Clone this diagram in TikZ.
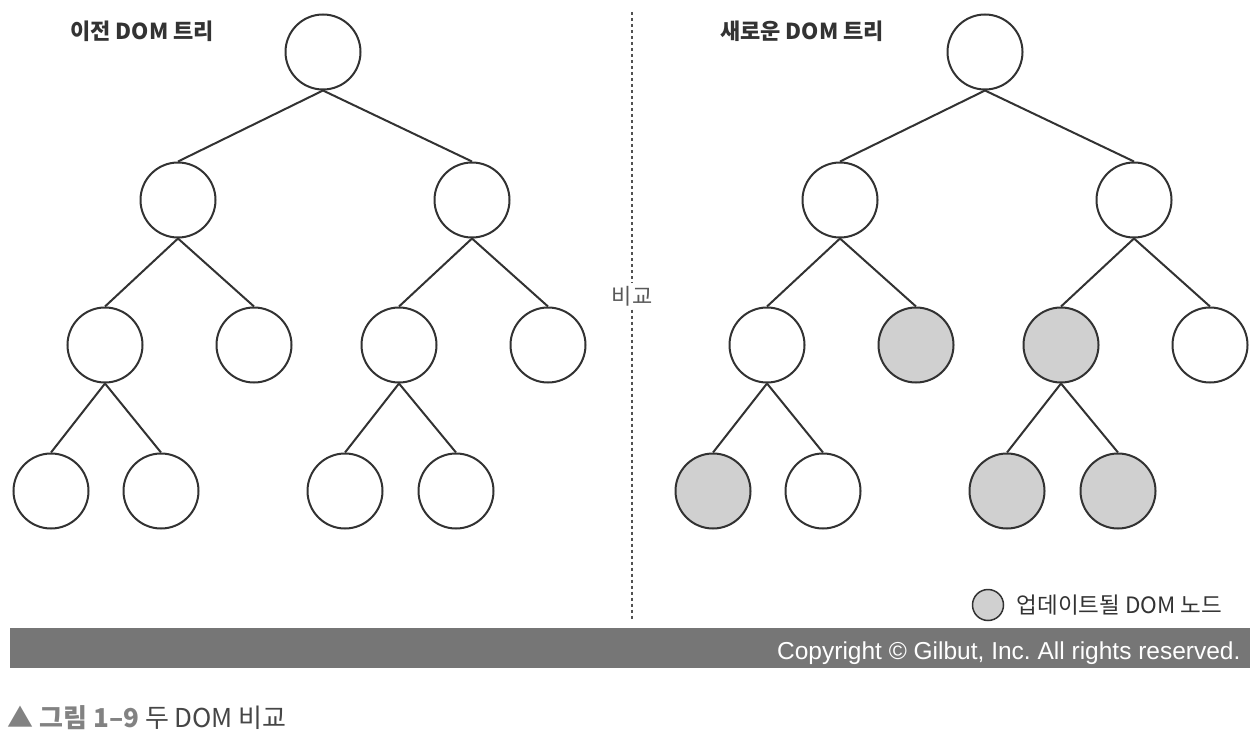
\documentclass[tikz,border=0pt]{standalone}
\usepackage{fontspec}
\setmainfont{Noto Sans CJK KR}
\newfontfamily\arialfont{Liberation Sans}
\usetikzlibrary{positioning}
\definecolor{trazo}{RGB}{50,50,50}
\definecolor{gris}{RGB}{208,208,208}
\definecolor{barra}{RGB}{118,118,118}
\definecolor{pie}{RGB}{130,130,130}
\definecolor{pieoscuro}{RGB}{70,70,70}
\frenchspacing

\begin{document}
\begin{tikzpicture}[x=1pt, y=-1pt,
  nodo/.style={circle, draw=trazo, line width=2pt, fill=white,
               minimum size=75pt, inner sep=0pt},
  cambio/.style={nodo, fill=gris},
  arista/.style={line width=2pt, color=trazo},
  separador/.style={line width=1.8pt, color=trazo!85, dash pattern=on 3pt off 3pt},
  titulo/.style={font=\fontsize{22}{26}\selectfont\bfseries, text=black!80}]
  \useasboundingbox (0,0) rectangle (1260,746);
  % arbol anterior
  \node[titulo] (tviejo) at (142,31) {이전 DOM 트리};
  \node[nodo] (v0) at (323,52) {};
  \node[nodo] (v1) at (178,200) {};
  \node[nodo] (v2) at (472,200) {};
  \node[nodo] (v11) at (105,345) {};
  \node[nodo] (v12) at (254,345) {};
  \node[nodo] (v21) at (399,345) {};
  \node[nodo] (v22) at (548,345) {};
  \node[nodo] (v111) at (51,491) {};
  \node[nodo] (v112) at (161,491) {};
  \node[nodo] (v211) at (345,491) {};
  \node[nodo] (v212) at (456,491) {};
  \draw[arista] (v0.south) -- (v1.north);
  \draw[arista] (v0.south) -- (v2.north);
  \draw[arista] (v1.south) -- (v11.north);
  \draw[arista] (v1.south) -- (v12.north);
  \draw[arista] (v2.south) -- (v21.north);
  \draw[arista] (v2.south) -- (v22.north);
  \draw[arista] (v11.south) -- (v111.north);
  \draw[arista] (v11.south) -- (v112.north);
  \draw[arista] (v21.south) -- (v211.north);
  \draw[arista] (v21.south) -- (v212.north);
  % arbol nuevo
  \node[titulo] (tnuevo) at (802,31) {새로운 DOM 트리};
  \node[nodo] (n0) at (985,52) {};
  \node[nodo] (n1) at (840,200) {};
  \node[nodo] (n2) at (1134,200) {};
  \node[nodo] (n11) at (767,345) {};
  \node[cambio] (n12) at (916,345) {};
  \node[cambio] (n21) at (1061,345) {};
  \node[nodo] (n22) at (1210,345) {};
  \node[cambio] (n111) at (713,491) {};
  \node[nodo] (n112) at (823,491) {};
  \node[cambio] (n211) at (1007,491) {};
  \node[cambio] (n212) at (1118,491) {};
  \draw[arista] (n0.south) -- (n1.north);
  \draw[arista] (n0.south) -- (n2.north);
  \draw[arista] (n1.south) -- (n11.north);
  \draw[arista] (n1.south) -- (n12.north);
  \draw[arista] (n2.south) -- (n21.north);
  \draw[arista] (n2.south) -- (n22.north);
  \draw[arista] (n11.south) -- (n111.north);
  \draw[arista] (n11.south) -- (n112.north);
  \draw[arista] (n21.south) -- (n211.north);
  \draw[arista] (n21.south) -- (n212.north);
  % separador
  \coordinate (sepA) at (632,12);
  \coordinate (sepB) at (632,620);
  \node[font=\fontsize{22}{26}\selectfont, text=black!65] (comparar) at (632,296) {비교};
  \draw[separador] (sepA) -- (comparar);
  \draw[separador] (comparar) -- (sepB);
  % leyenda
  \node[cambio, minimum size=31pt, line width=1.5pt] (leyenda) at (988,605) {};
  \node[right=9pt of leyenda, font=\fontsize{22.5}{26}\selectfont, text=black!80] (leyendatexto) {업데이트될 DOM 노드};
  % barra y pie
  \node[fill=barra, minimum width=1240pt, minimum height=40pt, inner sep=0pt] (franja) at (630,648) {};
  \node[anchor=east, text=white, font=\arialfont\fontsize{24.5}{28}\selectfont]
       (derechos) at (1244,653) {Copyright © Gilbut, Inc. All rights reserved.};
  \node[anchor=west, font=\fontsize{26}{30}\selectfont] (pie) at (4,718)
       {\textcolor{pie}{\bfseries ▲ 그림 1–9} \textcolor{pieoscuro}{두 DOM 비교}};
\end{tikzpicture}
\end{document}
